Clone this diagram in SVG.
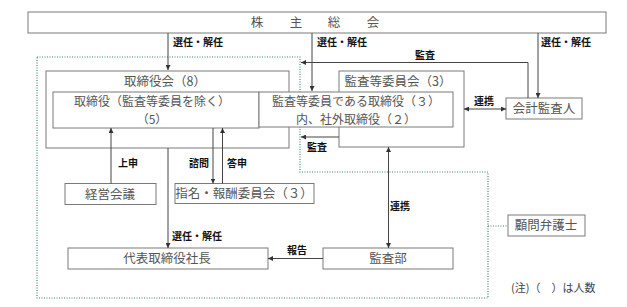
<svg xmlns="http://www.w3.org/2000/svg" width="627" height="307" viewBox="0 0 627 307">
<style>
.box{fill:#fff;stroke:#7a7a7a;stroke-width:1}
.t{font-family:"Noto Sans CJK JP","Noto Sans CJK SC",sans-serif;font-size:12.5px;fill:#555;text-anchor:middle}
.t2{font-size:12px}
.lb{font-family:"Noto Sans CJK JP","Noto Sans CJK SC",sans-serif;font-size:10px;font-weight:bold;fill:#111}
.c{fill:none;stroke:#444;stroke-width:1}
.dot{fill:none;stroke:#3f8a63;stroke-width:1.2;stroke-dasharray:1 1.5}
</style>
<defs>
<marker id="ah" viewBox="0 0 6 6" refX="6" refY="3" markerWidth="5" markerHeight="5" orient="auto-start-reverse">
<path d="M0,0 L6,3 L0,6 z" fill="#333"/>
</marker>
</defs>
<rect width="627" height="307" fill="#fff"/>
<path class="dot" d="M37,57 H300 V172 H488 V298 H37 Z"/>
<g id="shareholders">
<rect class="box" x="28" y="12" width="578" height="21"/>
<text class="t" x="257 296 334 373" y="27">株主総会</text>
</g>
<g id="board">
<rect class="box" x="46" y="71" width="243" height="77"/>
<text class="t" x="165" y="86">取締役会（8）</text>
</g>
<g id="audit-committee">
<rect class="box" x="339" y="71" width="125" height="76"/>
<text class="t" x="398" y="86">監査等委員会（3）</text>
</g>
<g id="directors">
<rect class="box" x="53" y="92" width="206" height="36"/>
<text class="t t2" x="152" y="105.5">取締役（監査等委員を除く）</text>
<text class="t t2" x="152" y="123.5">（5）</text>
</g>
<g id="audit-directors">
<rect class="box" x="259" y="92" width="194" height="35"/>
<text class="t t2" x="356" y="105.5">監査等委員である取締役（３）</text>
<text class="t t2" x="356" y="123.5">内、社外取締役（２）</text>
</g>
<g id="auditor">
<rect class="box" x="506" y="98" width="76" height="21"/>
<text class="t" x="544" y="113">会計監査人</text>
</g>
<g id="management-meeting">
<rect class="box" x="65" y="183.5" width="91" height="21"/>
<text class="t" x="110" y="199">経営会議</text>
</g>
<g id="nomination-committee">
<rect class="box" x="175" y="183.5" width="139" height="20"/>
<text class="t" x="244" y="198">指名・報酬委員会（３）</text>
</g>
<g id="legal-advisor">
<rect class="box" x="508" y="215" width="77" height="21"/>
<text class="t" x="546" y="230">顧問弁護士</text>
</g>
<g id="president">
<rect class="box" x="68" y="248" width="200" height="21"/>
<text class="t" x="167" y="263">代表取締役社長</text>
</g>
<g id="internal-audit">
<rect class="box" x="323" y="248" width="130" height="21"/>
<text class="t" x="388" y="263">監査部</text>
</g>
<g id="connectors">
<path class="c" d="M168,33 V70" marker-end="url(#ah)"/>
<path class="c" d="M312,33 V91" marker-end="url(#ah)"/>
<path class="c" d="M538,33 V98" marker-end="url(#ah)"/>
<path class="c" d="M528,98 V62.5 H301" marker-end="url(#ah)"/>
<path class="c" d="M464,109 H506" marker-start="url(#ah)" marker-end="url(#ah)"/>
<path class="c" d="M339,137 H301" marker-end="url(#ah)"/>
<path class="c" d="M111,183.5 V128" marker-end="url(#ah)"/>
<path class="c" d="M213,128 V183.5" marker-end="url(#ah)"/>
<path class="c" d="M222.5,183.5 V128" marker-end="url(#ah)"/>
<path class="c" d="M168,148 V248" marker-end="url(#ah)"/>
<path class="c" d="M323,258.5 H268" marker-end="url(#ah)"/>
<path class="c" d="M388.5,147 V248" marker-start="url(#ah)" marker-end="url(#ah)"/>
<path class="dot" d="M488,226 H508"/>
<text class="lb" x="173" y="46">選任・解任</text>
<text class="lb" x="317" y="46">選任・解任</text>
<text class="lb" x="541" y="46">選任・解任</text>
<text class="lb" x="415" y="59">監査</text>
<text class="lb" x="474" y="105">連携</text>
<text class="lb" x="307" y="151">監査</text>
<text class="lb" x="118" y="167">上申</text>
<text class="lb" x="189" y="167">諮問</text>
<text class="lb" x="227" y="167">答申</text>
<text class="lb" x="172" y="240">選任・解任</text>
<text class="lb" x="287" y="254">報告</text>
<text class="lb" x="390" y="210">連携</text>
</g>
<text x="511" y="292" font-family="Noto Sans CJK JP, sans-serif" font-size="11" fill="#444">(注)（　）は人数</text>
</svg>
